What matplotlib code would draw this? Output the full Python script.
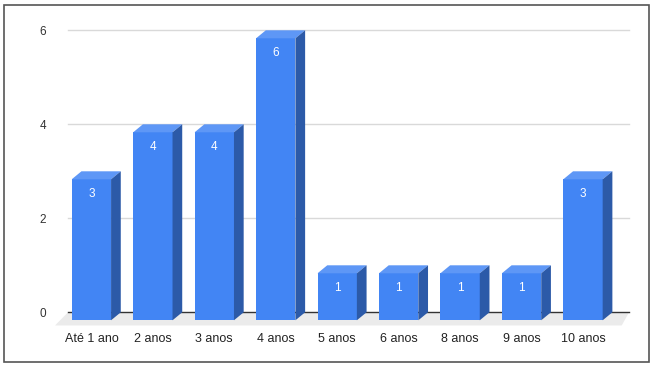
import matplotlib
matplotlib.use("Agg")
import matplotlib.pyplot as plt
from matplotlib.patches import Polygon, Rectangle

categories = ["Até 1 ano", "2 anos", "3 anos", "4 anos", "5 anos",
              "6 anos", "8 anos", "9 anos", "10 anos"]
values = [3, 4, 4, 6, 1, 1, 1, 1, 3]
yticks = [0, 2, 4, 6]

plt.rcParams['font.family'] = ['Liberation Sans', 'DejaVu Sans']

W, H = 653, 367
fig = plt.figure(figsize=(W / 100, H / 100), dpi=100)
ax = fig.add_axes([0, 0, 1, 1])
ax.axis('off')

# pixel -> data mapping: category step 61.45 px, value unit 47 px
x0px, step = 91.4, 61.45
y0px, unit = 312.3, 47.0
ax.set_xlim((0 - x0px) / step, (W - x0px) / step)
ax.set_ylim((y0px - H) / unit, y0px / unit)

dx, dy = 0.158, 0.17      # depth offset of 3d bars
hw = 0.32                 # half bar width
gx0, gx1 = -0.381, 8.75   # back plane extent

# floor
ax.add_patch(Polygon([(gx0, 0), (gx1, 0), (8.63, -0.28), (-0.592, -0.28)],
                     closed=True, fc='#ebebeb', ec='none', zorder=1))
# gridlines
for t in yticks[1:]:
    ax.plot([gx0, gx1], [t, t], color='#d9d9d9', lw=1, zorder=0)
ax.plot([gx0, gx1], [0, 0], color='#333333', lw=1, zorder=2)
for t in yticks:
    ax.text(-0.739, t, str(t), ha='right', va='center_baseline',
            fontsize=8.5, color='#333333')

front_c, top_c, side_c = '#4285f4', '#5e97f6', '#2c5aa8'
for i, v in enumerate(values):
    l, r = i - hw, i + hw
    ax.add_patch(Polygon([(l, -dy), (r, -dy), (r, v - dy), (l, v - dy)],
                         closed=True, fc=front_c, ec='none', zorder=3))
    ax.add_patch(Polygon([(l, v - dy), (r, v - dy), (r + dx, v), (l + dx, v)],
                         closed=True, fc=top_c, ec='none', zorder=3))
    ax.add_patch(Polygon([(r, -dy), (r + dx, 0), (r + dx, v), (r, v - dy)],
                         closed=True, fc=side_c, ec='none', zorder=3))
    ax.text(i, v - dy - 0.28, str(v), ha='center', va='center_baseline',
            fontsize=8.5, color='white', zorder=4)
    ax.text(i, -0.56, categories[i], ha='center', va='center',
            fontsize=9, color='#222222')

fig.patches.append(Rectangle((4 / W, 1 - 362 / H), 645 / W, 357 / H,
                             transform=fig.transFigure, fill=False,
                             ec='#555555', lw=1.2))

fig.savefig("out.png", dpi=100)
